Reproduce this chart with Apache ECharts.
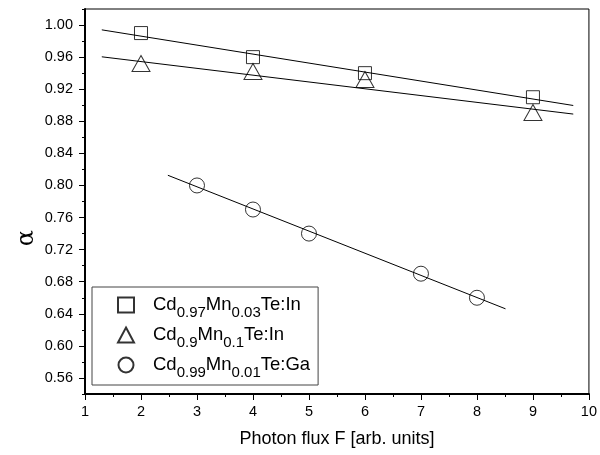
<!DOCTYPE html>
<html>
<head>
<meta charset="utf-8">
<script src="https://cdn.jsdelivr.net/npm/echarts@6/dist/echarts.min.js"></script>
<style>html,body{margin:0;padding:0;background:#fff}#c{width:600px;height:455px}</style>
</head>
<body>
<div id="c"></div>
<script>
// ---- data ----
var seriesNames = ['Cd0.97Mn0.03Te:In', 'Cd0.9Mn0.1Te:In', 'Cd0.99Mn0.01Te:Ga'];
var squareX = [2, 4, 6, 9];
var squareY = [0.990, 0.960, 0.940, 0.910];
var triangleX = [2, 4, 6, 9];
var triangleY = [0.952, 0.942, 0.932, 0.891];
var circleX = [3, 4, 5, 7, 8];
var circleY = [0.800, 0.770, 0.740, 0.690, 0.660];
// linear fit lines (end points)
var fitSquare = [[1.3, 0.994], [9.72, 0.8997]];
var fitTriangle = [[1.3, 0.9604], [9.72, 0.889]];
var fitCircle = [[2.48, 0.8127], [8.51, 0.6462]];
var yMajorTicks = [0.56, 0.60, 0.64, 0.68, 0.72, 0.76, 0.80, 0.84, 0.88, 0.92, 0.96, 1.00];

function zip(xs, ys) { return xs.map(function (x, i) { return [x, ys[i]]; }); }

var legendRich = {
  'Cd0.97Mn0.03Te:In': '{n|Cd}{s|0.97}{n|Mn}{s|0.03}{n|Te:In}',
  'Cd0.9Mn0.1Te:In': '{n|Cd}{s|0.9}{n|Mn}{s|0.1}{n|Te:In}',
  'Cd0.99Mn0.01Te:Ga': '{n|Cd}{s|0.99}{n|Mn}{s|0.01}{n|Te:Ga}'
};

var FONT = 'Liberation Sans, Arial, sans-serif';
var chart = echarts.init(document.getElementById('c'), null, {renderer: 'canvas'});
var hollow = {color: 'rgba(0,0,0,0)', borderColor: '#000', borderWidth: 1};
var fitStyle = {color: '#000', width: 1};

chart.setOption({
  animation: false,
  backgroundColor: '#fff',
  textStyle: {fontFamily: FONT},
  grid: {left: 85, right: 9, top: 9, bottom: 61, show: true, borderColor: '#000', borderWidth: 1, backgroundColor: 'transparent'},
  xAxis: {
    type: 'value', min: 1, max: 10, interval: 1,
    name: 'Photon flux F [arb. units]', nameLocation: 'middle', nameGap: 36,
    nameTextStyle: {fontSize: 18, color: '#000', fontFamily: FONT},
    axisLine: {lineStyle: {color: '#000', width: 2}},
    axisTick: {inside: false, length: 6, lineStyle: {color: '#000', width: 1}},
    minorTick: {show: true, splitNumber: 2, length: 3, lineStyle: {color: '#000', width: 1}},
    axisLabel: {fontSize: 14.5, color: '#000', margin: 10, fontFamily: FONT},
    splitLine: {show: false}
  },
  yAxis: [{
    type: 'value', min: 0.54, max: 1.02, interval: 0.02, position: 'left',
    axisLine: {lineStyle: {color: '#000', width: 2}},
    axisTick: {inside: false, length: 3, lineStyle: {color: '#000', width: 1}},
    axisLabel: {
      fontSize: 14.5, color: '#000', margin: 12, fontFamily: FONT,
      formatter: function (v) {
        var k = Math.round(v * 100);
        return (k % 4 === 0) ? v.toFixed(2) : '';
      }
    },
    splitLine: {show: false}
  }, {
    type: 'value', min: 0.54, max: 1.02, position: 'left', offset: 0,
    axisLine: {show: false},
    axisTick: {show: true, inside: false, length: 6, customValues: yMajorTicks, lineStyle: {color: '#000', width: 1}},
    axisLabel: {show: false},
    splitLine: {show: false}
  }],
  legend: {
    orient: 'vertical', left: 92, top: 287,
    data: seriesNames,
    itemWidth: 16, itemHeight: 15, itemGap: 5,
    padding: [8, 8, 5, 25],
    borderColor: '#444', borderWidth: 1,
    formatter: function (name) { return legendRich[name]; },
    textStyle: {
      padding: [0, 0, 0, 14],
      rich: {
        n: {fontSize: 18.5, color: '#000', fontFamily: FONT, lineHeight: 20, verticalAlign: 'top'},
        s: {fontSize: 15, color: '#000', fontFamily: FONT, lineHeight: 20, verticalAlign: 'top', padding: [10, 0, 0, 0]}
      }
    }
  },
  series: [
    {type: 'line', data: fitSquare, symbol: 'none', lineStyle: fitStyle, silent: true, z: 1},
    {type: 'line', data: fitTriangle, symbol: 'none', lineStyle: fitStyle, silent: true, z: 1},
    {type: 'line', data: fitCircle, symbol: 'none', lineStyle: fitStyle, silent: true, z: 1},
    {name: seriesNames[0], type: 'scatter', data: zip(squareX, squareY), symbol: 'rect', symbolSize: 13, itemStyle: hollow, z: 3},
    {name: seriesNames[1], type: 'scatter', data: zip(triangleX, triangleY), symbol: 'triangle', symbolSize: [18, 16], itemStyle: hollow, z: 3},
    {name: seriesNames[2], type: 'scatter', data: zip(circleX, circleY), symbol: 'circle', symbolSize: 15, itemStyle: hollow, z: 3}
  ],
  graphic: [{
    type: 'text', left: 15, top: 230, rotation: Math.PI / 2,
    style: {text: 'α', fontSize: 24, fill: '#000', fontFamily: 'DejaVu Serif, serif'}
  }]
});
</script>
</body>
</html>
